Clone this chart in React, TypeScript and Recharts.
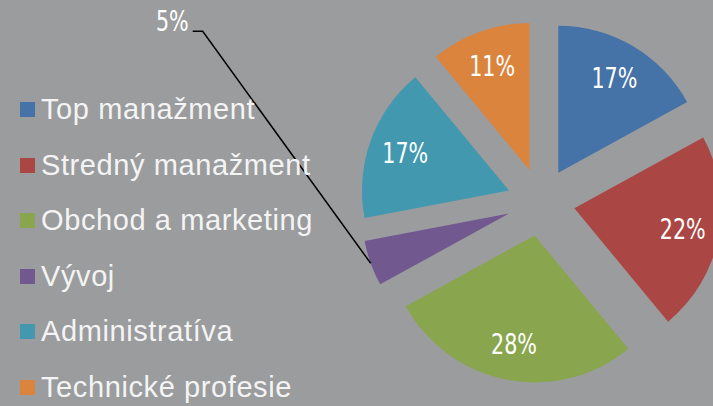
import React from 'react';
import { PieChart, Pie, Cell, Legend } from 'recharts';

// data
const categories = ['Top manažment', 'Stredný manažment', 'Obchod a marketing', 'Vývoj', 'Administratíva', 'Technické profesie'];
const shares = [17, 22, 28, 5, 17, 11];
const colors = ['#4572A7', '#AA4643', '#89A54E', '#71588F', '#4198AF', '#DB843D'];

const data = categories.map((name, i) => ({ name, value: shares[i] }));

const CX = 541;
const CY = 202;
const R = 147;
const EXPLODE = 34;
const RAD = Math.PI / 180;
const OUTSIDE = 'Vývoj'; // small slice, label pulled out with a leader line

const total = shares.reduce((a, b) => a + b, 0);
// mid angle of each slice (recharts convention: degrees ccw from 3 o'clock)
const midAngles = shares.map((v, i) => {
  const before = shares.slice(0, i).reduce((a, b) => a + b, 0);
  return 90 - ((before + v / 2) / total) * 360;
});

const labelFont = "'Liberation Sans Narrow', 'DejaVu Sans Condensed', 'Liberation Sans', sans-serif";

// narrow-ish label text
const PctText = ({ x, y, anchor, baseline, children }: any) => (
  <text
    transform={`translate(${x},${y}) scale(0.82,1)`}
    textAnchor={anchor}
    dominantBaseline={baseline}
    fill="#fff"
    fontSize={28}
    fontFamily={labelFont}
  >
    {children}
  </text>
);

const makeLabel = (k: number) => (props: any) => {
  const { cx, cy, midAngle, outerRadius, index, value } = props;
  if (index !== k) return null;
  const cos = Math.cos(-midAngle * RAD);
  const sin = Math.sin(-midAngle * RAD);
  if (categories[k] === OUTSIDE) {
    const ox = cx + outerRadius * cos;
    const oy = cy + outerRadius * sin;
    const ex = ox - 168;
    const ey = oy - 232;
    return (
      <g>
        <path d={`M${ox},${oy}L${ex},${ey}L${ex - 10},${ey}`} stroke="#000" strokeWidth={1.5} fill="none" />
        <PctText x={ex - 14} y={ey} anchor="end" baseline="auto">
          {value}%
        </PctText>
      </g>
    );
  }
  const r = outerRadius * 0.75;
  return (
    <PctText x={cx + r * cos} y={cy + r * sin} anchor="middle" baseline="central">
      {value}%
    </PctText>
  );
};

const LegendList = (props: any) => {
  const names = (props.payload || []).map((p: any) => p.value);
  const items = categories.filter((c) => names.includes(c));
  return (
    <div>
      {items.map((name) => (
        <div key={name} style={{ height: 55.5, display: 'flex', alignItems: 'center' }}>
          <span style={{ width: 15, height: 15, background: colors[categories.indexOf(name)], marginRight: 6 }} />
          <span
            style={{
              color: '#f4f4f4',
              fontSize: 29,
              letterSpacing: 0.6,
              fontFamily: "'Liberation Sans', sans-serif",
              whiteSpace: 'nowrap',
            }}
          >
            {name}
          </span>
        </div>
      ))}
    </div>
  );
};

export default function App() {
  return (
    <div style={{ position: 'absolute', left: 0, top: 0, width: 713, height: 406, background: '#9b9c9e' }}>
      <PieChart width={713} height={406} margin={{ top: 0, right: 0, bottom: 0, left: 0 }}>
        {categories.map((name, k) => (
          <Pie
            key={name}
            data={data}
            dataKey="value"
            nameKey="name"
            cx={CX + EXPLODE * Math.cos(midAngles[k] * RAD)}
            cy={CY - EXPLODE * Math.sin(midAngles[k] * RAD)}
            outerRadius={R}
            startAngle={90}
            endAngle={-270}
            stroke="none"
            label={makeLabel(k)}
            labelLine={false}
            isAnimationActive={false}
          >
            {data.map((d, i) => (
              <Cell key={d.name} fill={i === k ? colors[i] : 'none'} />
            ))}
          </Pie>
        ))}
        <Legend
          layout="vertical"
          align="center"
          verticalAlign="middle"
          content={<LegendList />}
          wrapperStyle={{ left: 20, top: 82, width: 330 }}
        />
      </PieChart>
    </div>
  );
}
